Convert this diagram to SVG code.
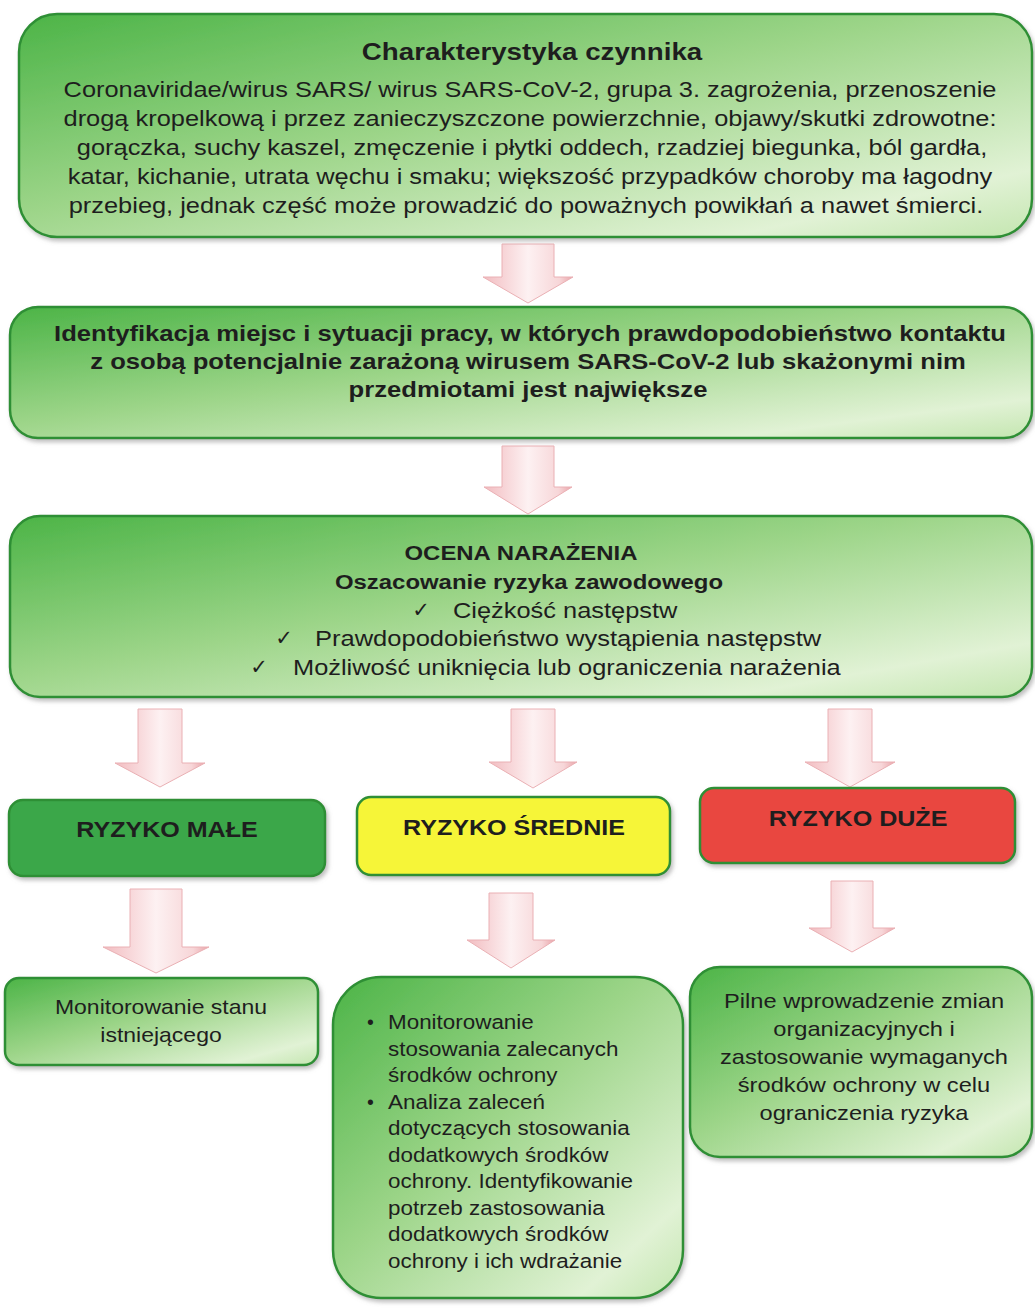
<svg xmlns="http://www.w3.org/2000/svg" width="1035" height="1312" viewBox="0 0 1035 1312">
<style>
text{font-family:"Liberation Sans",Arial,sans-serif;fill:#1e1e1e}
.r{font-size:22px}
.b{font-size:22px;font-weight:bold}
.m{text-anchor:middle}
.box{fill:url(#gG);stroke:#2f8f35;stroke-width:2.5;filter:url(#sh)}
.risk{stroke:#2f8f35;stroke-width:2.5;filter:url(#sh)}
.arr{fill:url(#gA);stroke:#eab0b4;stroke-width:1}
.ck{font-family:"DejaVu Sans",sans-serif;font-size:21px;text-anchor:middle}
</style>
<defs>
<linearGradient id="gG" x1="0" y1="0" x2="1" y2="1">
<stop offset="0" stop-color="#4cb447"/>
<stop offset="0.45" stop-color="#9dd589"/>
<stop offset="0.85" stop-color="#e1f2d5"/>
<stop offset="1" stop-color="#c4e6b0"/>
</linearGradient>
<linearGradient id="gA" x1="0" y1="0" x2="1" y2="0">
<stop offset="0" stop-color="#f2bcc0"/>
<stop offset="0.5" stop-color="#fdf1f2"/>
<stop offset="0.85" stop-color="#f7d6d8"/>
<stop offset="1" stop-color="#e9a4a9"/>
</linearGradient>
<filter id="sh" x="-5%" y="-5%" width="110%" height="120%">
<feDropShadow dx="2" dy="3" stdDeviation="2" flood-color="#8a8a8a" flood-opacity="0.55"/>
</filter>
</defs>
<rect width="1035" height="1312" fill="#ffffff"/>

<g id="connectors">
<path class="arr" d="M502 244H554V277H573L528 303L483 277H502Z"/>
<path class="arr" d="M502 446H554V487H572L528 514L484 487H502Z"/>
<path class="arr" d="M138 709H182V763H205L160 787L115 763H138Z"/>
<path class="arr" d="M511 709H555V762H577L533 788L489 762H511Z"/>
<path class="arr" d="M828 709H872V762H895L850 787L805 762H828Z"/>
<path class="arr" d="M130 889H182V947H209L156 973L103 947H130Z"/>
<path class="arr" d="M489 893H533V940H555L511 968L467 940H489Z"/>
<path class="arr" d="M831 881H873V928H895L852 952L809 928H831Z"/>
</g>

<g id="charakterystyka">
<rect class="box" x="19" y="14" width="1013" height="223" rx="38"/>
<text class="b m" style="font-size:23.5px" transform="translate(532 60) scale(1.18 1)">Charakterystyka czynnika</text>
<text class="r m" transform="translate(530 97) scale(1.155 1)">Coronaviridae/wirus SARS/ wirus SARS-CoV-2, grupa 3. zagrożenia, przenoszenie</text>
<text class="r m" transform="translate(530 126) scale(1.155 1)">drogą kropelkową i przez zanieczyszczone powierzchnie, objawy/skutki zdrowotne:</text>
<text class="r m" transform="translate(532 155) scale(1.155 1)">gorączka, suchy kaszel, zmęczenie i płytki oddech, rzadziej biegunka, ból gardła,</text>
<text class="r m" transform="translate(530 184) scale(1.155 1)">katar, kichanie, utrata węchu i smaku; większość przypadków choroby ma łagodny</text>
<text class="r m" transform="translate(526 213) scale(1.155 1)">przebieg, jednak część może prowadzić do poważnych powikłań a nawet śmierci.</text>
</g>

<g id="identyfikacja">
<rect class="box" x="10" y="307" width="1022" height="131" rx="28"/>
<text class="b m" transform="translate(530 341) scale(1.165 1)">Identyfikacja miejsc i sytuacji pracy, w których prawdopodobieństwo kontaktu</text>
<text class="b m" transform="translate(528 369) scale(1.165 1)">z osobą potencjalnie zarażoną wirusem SARS-CoV-2 lub skażonymi nim</text>
<text class="b m" transform="translate(528 397) scale(1.165 1)">przedmiotami jest największe</text>
</g>

<g id="ocena">
<rect class="box" x="10" y="516" width="1022" height="181" rx="30"/>
<text class="b m" style="font-size:21px" transform="translate(521 560) scale(1.14 1)">OCENA NARAŻENIA</text>
<text class="b m" style="font-size:21px" transform="translate(529 589) scale(1.14 1)">Oszacowanie ryzyka zawodowego</text>
<text class="ck" x="421" y="617">✓</text>
<text class="r" transform="translate(453 618) scale(1.155 1)">Ciężkość następstw</text>
<text class="ck" x="284" y="645">✓</text>
<text class="r" transform="translate(315 646) scale(1.16 1)">Prawdopodobieństwo wystąpienia następstw</text>
<text class="ck" x="259" y="674">✓</text>
<text class="r" transform="translate(293 675) scale(1.155 1)">Możliwość uniknięcia lub ograniczenia narażenia</text>
</g>

<g id="ryzyko-male">
<rect class="risk" x="9" y="800" width="316" height="76" rx="14" fill="#3ba74a"/>
<text class="b m" transform="translate(167 837) scale(1.14 1)">RYZYKO MAŁE</text>
</g>

<g id="ryzyko-srednie">
<rect class="risk" x="357" y="797" width="313" height="78" rx="14" fill="#f6f537"/>
<text class="b m" transform="translate(514 835) scale(1.14 1)">RYZYKO ŚREDNIE</text>
</g>

<g id="ryzyko-duze">
<rect class="risk" x="700" y="788" width="315" height="75" rx="14" fill="#e9463f"/>
<text class="b m" transform="translate(858 826) scale(1.14 1)">RYZYKO DUŻE</text>
</g>

<g id="monitorowanie">
<rect class="box" x="5" y="978" width="313" height="87" rx="14"/>
<text class="r m" style="font-size:20px" transform="translate(161 1014) scale(1.15 1)">Monitorowanie stanu</text>
<text class="r m" style="font-size:20px" transform="translate(161 1042) scale(1.15 1)">istniejącego</text>
</g>

<g id="srednie-dzialania">
<rect class="box" x="333" y="977" width="350" height="321" rx="48"/>
<text class="r" style="font-size:19.5px" x="367" y="1029">•</text>
<text class="r" style="font-size:19.5px" transform="translate(388 1029) scale(1.15 1)">Monitorowanie</text>
<text class="r" style="font-size:19.5px" transform="translate(388 1055.5) scale(1.15 1)">stosowania zalecanych</text>
<text class="r" style="font-size:19.5px" transform="translate(388 1082) scale(1.15 1)">środków ochrony</text>
<text class="r" style="font-size:19.5px" x="367" y="1108.5">•</text>
<text class="r" style="font-size:19.5px" transform="translate(388 1108.5) scale(1.15 1)">Analiza zaleceń</text>
<text class="r" style="font-size:19.5px" transform="translate(388 1135) scale(1.15 1)">dotyczących stosowania</text>
<text class="r" style="font-size:19.5px" transform="translate(388 1161.5) scale(1.15 1)">dodatkowych środków</text>
<text class="r" style="font-size:19.5px" transform="translate(388 1188) scale(1.15 1)">ochrony. Identyfikowanie</text>
<text class="r" style="font-size:19.5px" transform="translate(388 1214.5) scale(1.15 1)">potrzeb zastosowania</text>
<text class="r" style="font-size:19.5px" transform="translate(388 1241) scale(1.15 1)">dodatkowych środków</text>
<text class="r" style="font-size:19.5px" transform="translate(388 1267.5) scale(1.15 1)">ochrony i ich wdrażanie</text>
</g>

<g id="duze-dzialania">
<rect class="box" x="690" y="967" width="342" height="190" rx="30"/>
<text class="r m" style="font-size:20.5px" transform="translate(864 1008) scale(1.155 1)">Pilne wprowadzenie zmian</text>
<text class="r m" style="font-size:20.5px" transform="translate(864 1036) scale(1.155 1)">organizacyjnych i</text>
<text class="r m" style="font-size:20.5px" transform="translate(864 1064) scale(1.155 1)">zastosowanie wymaganych</text>
<text class="r m" style="font-size:20.5px" transform="translate(864 1092) scale(1.155 1)">środków ochrony w celu</text>
<text class="r m" style="font-size:20.5px" transform="translate(864 1120) scale(1.155 1)">ograniczenia ryzyka</text>
</g>
</svg>
